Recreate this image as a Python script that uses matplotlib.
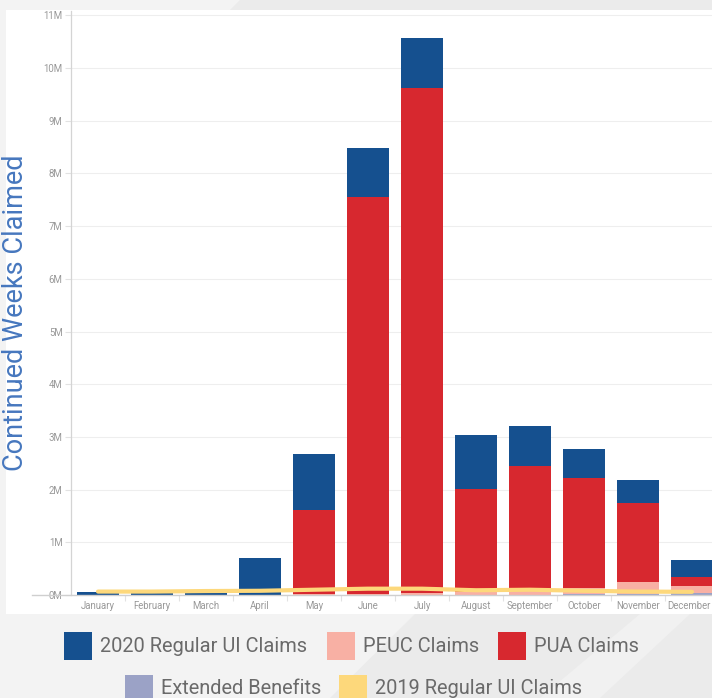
import matplotlib
matplotlib.use("Agg")
import matplotlib.pyplot as plt
from matplotlib.patches import Rectangle, Polygon
from matplotlib.lines import Line2D
import matplotlib.transforms as mtransforms
import numpy as np

plt.rcParams['font.family'] = ['Roboto', 'DejaVu Sans']

months = ["January", "February", "March", "April", "May", "June", "July",
          "August", "September", "October", "November", "December"]

# values in millions of continued weeks claimed
extended = [0, 0, 0, 0, 0, 0, 0, 0, 0, 0.01, 0.02, 0.03]
peuc = [0, 0, 0, 0, 0.01, 0.01, 0.04, 0.06, 0.07, 0.13, 0.225, 0.15]
pua = [0, 0, 0, 0, 1.61, 7.54, 9.58, 1.95, 2.37, 2.08, 1.495, 0.17]
regular_2020 = [0.05, 0.035, 0.10, 0.70, 1.05, 0.93, 0.95, 1.02, 0.77, 0.55, 0.44, 0.31]
regular_2019 = [0.065, 0.065, 0.075, 0.08, 0.10, 0.12, 0.12, 0.09, 0.10, 0.08, 0.065, 0.06]

series_names = ["2020 Regular UI Claims", "PEUC Claims", "PUA Claims",
                "Extended Benefits", "2019 Regular UI Claims"]
colors = {"2020 Regular UI Claims": "#15508F", "PEUC Claims": "#F8B0A4",
          "PUA Claims": "#D7282F", "Extended Benefits": "#9BA2C6",
          "2019 Regular UI Claims": "#FDD87B"}

W, H = 712, 698
fig = plt.figure(figsize=(W / 100, H / 100), dpi=100)
fig.patch.set_facecolor("#f3f3f3")

def fx(px):
    return px / W

def fy(py):
    return 1 - py / H

# background diagonal shading
bg = []
bg.append(Polygon([(fx(330), fy(698)), (fx(415), fy(614)), (fx(712), fy(614)), (fx(712), fy(698))],
                  closed=True, facecolor="#ebebeb"))
bg.append(Polygon([(fx(540), fy(698)), (fx(640), fy(614)), (fx(690), fy(614)), (fx(600), fy(698))],
                  closed=True, facecolor="#f1f1f1"))
bg.append(Polygon([(fx(230), fy(10)), (fx(240), fy(0)), (fx(712), fy(0)), (fx(712), fy(10))],
                  closed=True, facecolor="#ebebeb"))
# white panel
bg.append(Rectangle((fx(6), fy(614)), 1 - fx(6), fy(10) - fy(614), facecolor="white"))
for p in bg:
    p.set_transform(fig.transFigure)
    p.set_edgecolor("none")
    p.set_zorder(-5)
    fig.patches.append(p)

ax_left, ax_top, ax_bottom = 71, 11, 595
ax = fig.add_axes([fx(ax_left), fy(ax_bottom), 1 - fx(ax_left), (ax_bottom - ax_top) / H])
ax.set_facecolor("none")
ax.set_zorder(1)

x = np.arange(len(months))
bw = 0.76
bottom = np.zeros(len(months))
for name, vals in [("Extended Benefits", extended), ("PEUC Claims", peuc),
                   ("PUA Claims", pua), ("2020 Regular UI Claims", regular_2020)]:
    v = np.array(vals)
    ax.bar(x, v, bw, bottom=bottom, color=colors[name], zorder=2, linewidth=0)
    bottom += v

ax.plot(x, regular_2019, color=colors["2019 Regular UI Claims"], lw=3.0,
        solid_capstyle="round", zorder=3)

ax.set_xlim(-0.5, 11.37)
ax.set_ylim(0, (ax_bottom - ax_top) / 52.7)
yt = np.arange(0, 12)
ax.set_yticks(yt)
ax.set_yticklabels([f"{v}M" for v in yt])
ax.set_xticks(x)
ax.set_xticklabels(months)
ax.set_xticks(np.arange(0.5, 11.5, 1), minor=True)
ax.tick_params(axis="x", which="major", length=0, pad=4.5, labelsize=6.9, labelcolor="#999999")
ax.tick_params(axis="x", which="minor", length=4, color="#e2e2e2", width=0.8)
ax.tick_params(axis="y", which="major", length=4, color="#e2e2e2", width=0.8, pad=2,
               labelsize=6.9, labelcolor="#999999")
# nudge the last month label so it stays inside the canvas
last = ax.get_xticklabels()[-1]
last.set_transform(last.get_transform() + mtransforms.ScaledTranslation(-3 / 100, 0, fig.dpi_scale_trans))
ax.grid(axis="y", color="#eeeeee", lw=0.8, zorder=0)
ax.set_axisbelow(True)
for s in ["top", "right", "bottom"]:
    ax.spines[s].set_visible(False)
ax.spines["left"].set_color("#d4d4d4")
ax.spines["left"].set_linewidth(0.9)

# baseline extending under tick labels
fig.add_artist(Line2D([fx(32), 1], [fy(595), fy(595)], color="#cfcfcf", lw=1.0, zorder=5))

fig.text(fx(16), fy(313), "Continued Weeks Claimed", rotation=90, ha="center", va="center",
         fontsize=19.5, color="#4677BE")

# legend
legend_rows = [
    (646, [(64, series_names[0]), (327, series_names[1]), (498, series_names[2])]),
    (689, [(125, series_names[3]), (339, series_names[4])]),
]
sq = 28
for cy, items in legend_rows:
    for lx, name in items:
        fig.patches.append(Rectangle((fx(lx), fy(cy + sq / 2)), sq / W, sq / H, transform=fig.transFigure,
                                     facecolor=colors[name], edgecolor="none", zorder=3))
        fig.text(fx(lx + 36), fy(cy), name, ha="left", va="center", fontsize=14.4, color="#6a6a6a")

fig.savefig("out.png", dpi=100, facecolor=fig.get_facecolor())
